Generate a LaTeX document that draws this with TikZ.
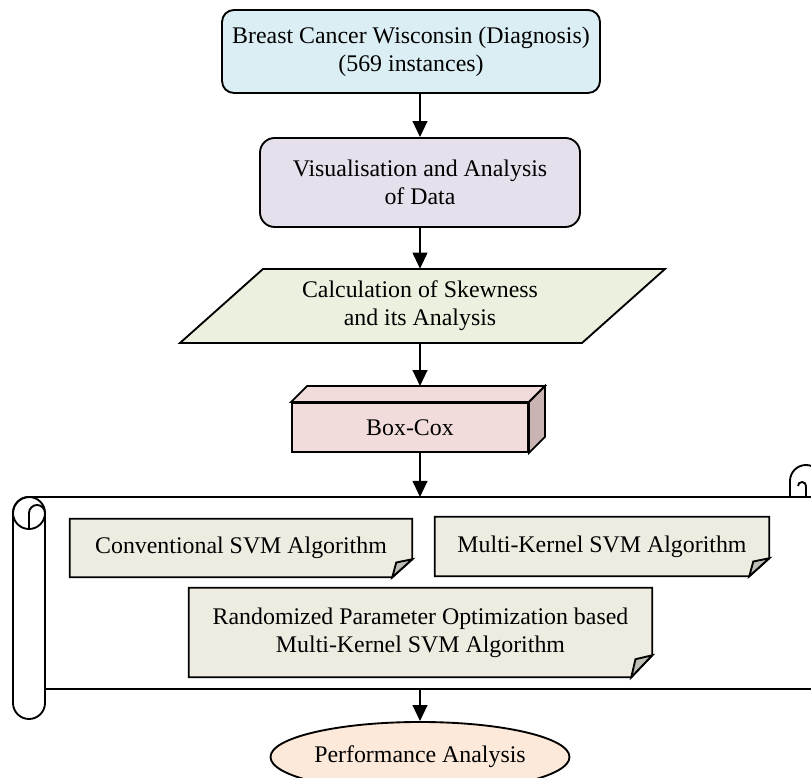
\documentclass[tikz,border=0pt]{standalone}
\usepackage{fontspec}
\setmainfont{Liberation Serif}
\usetikzlibrary{arrows.meta,shapes.geometric,backgrounds}

\definecolor{dataBlue}{HTML}{DAEEF3}
\definecolor{visPurple}{HTML}{E5E0EC}
\definecolor{calcGreen}{HTML}{EBF1DE}
\definecolor{coxRed}{HTML}{F2DCDB}
\definecolor{coxSide}{HTML}{C9B4B3}
\definecolor{noteTan}{HTML}{EEECE1}
\definecolor{foldGrey}{HTML}{BFBEB6}
\definecolor{perfPeach}{HTML}{FDE9D9}

\tikzset{
  outline/.style={draw, line width=1.4pt},
  stepbox/.style={outline, inner sep=0pt, align=center},
  flow/.style={line width=1.5pt, -{Triangle[length=12pt, width=11pt]}},
  notefill/.style={outline, fill=noteTan},
  foldfill/.style={outline, fill=foldGrey},
  notetext/.style={inner sep=0pt, align=center}
}

% folded note behind a text node: node, fold width, fold height
\newcommand{\notebg}[3]{%
  \begin{pgfonlayer}{background}
  \filldraw[notefill] (#1.north west) -- (#1.north east) -- ([yshift=#3]#1.south east)
    -- ([xshift=-#2]#1.south east) -- (#1.south west) -- cycle;
  \filldraw[foldfill] ([xshift=-#2]#1.south east) -- ([yshift=#3]#1.south east)
    -- ([xshift=-0.8*#2, yshift=0.82*#3]#1.south east) -- cycle;
  \end{pgfonlayer}}

\begin{document}
\begin{tikzpicture}[x=0.75pt, y=0.75pt, font=\fontsize{17.9}{21}\selectfont]
\useasboundingbox (0,0) rectangle (811,778);
\clip (0,0) rectangle (811,778);

% data set
\node[stepbox, fill=dataBlue, rounded corners=9pt, minimum width=283.5pt, minimum height=62.25pt]
  (data) at (411,726.5) {Breast Cancer Wisconsin (Diagnosis)\\(569 instances)};

% visualisation
\node[stepbox, fill=visPurple, rounded corners=11pt, minimum width=240pt, minimum height=66.75pt]
  (vis) at (420,595.5) {Visualisation and Analysis\\of Data};

% skewness
\filldraw[outline, fill=calcGreen] (180,435) -- (582,435) -- (665,509) -- (263,509) -- cycle;
\node[notetext, minimum height=55.5pt] (calc) at (420,472) {Calculation of Skewness\\and its Analysis};

% Box-Cox cube
\node[stepbox, fill=coxRed, minimum width=177pt, minimum height=36.75pt] (boxcox) at (410,350.5) {Box-Cox};
\filldraw[outline, fill=coxRed] (boxcox.north west) -- ([shift={(12pt,12pt)}]boxcox.north west)
  -- ([shift={(12pt,12pt)}]boxcox.north east) -- (boxcox.north east) -- cycle;
\filldraw[outline, fill=coxSide] (boxcox.north east) -- ([shift={(12pt,12pt)}]boxcox.north east)
  -- ([shift={(12pt,12pt)}]boxcox.south east) -- (boxcox.south east) -- cycle;
\coordinate (cubetop) at ([shift={(12pt,12pt)}]boxcox.north);

% scroll
\draw[outline] (13,75) -- (13,265) arc (180:90:12pt) -- (830,281);
\draw[outline] (29,265) circle (12pt);
\draw[outline] (29,249) -- (29,265) arc (180:0:6pt) -- (45,75) arc (0:-180:12pt);
\draw[outline] (45,89) -- (830,89);
\draw[outline] (790,281) -- (790,297) arc (180:0:12pt) -- (822,89);
\draw[outline] (806,281) -- (806,292) arc (0:180:3pt);
\coordinate (scrolltop) at (420,281);
\coordinate (scrollbot) at (420,89);

% algorithms
\node[notetext, minimum width=256.5pt, minimum height=43.5pt] (conv) at (241,230) {Conventional SVM Algorithm};
\node[notetext, minimum width=250.5pt, minimum height=44.25pt] (multi) at (602,231.5) {Multi-Kernel SVM Algorithm};
\node[notetext, minimum width=347.25pt, minimum height=66.75pt] (rpo) at (420.5,145.5)
  {Randomized Parameter Optimization based\\Multi-Kernel SVM Algorithm};
\notebg{conv}{15pt}{13.5pt}
\notebg{multi}{15pt}{13.5pt}
\notebg{rpo}{15.75pt}{16.5pt}

% performance
\node[stepbox, ellipse, fill=perfPeach, minimum width=199.5pt, minimum height=52.5pt] (perf) at (420,21) {Performance Analysis};

% arrows
\draw[flow] (vis.north |- data.south) -- (vis.north);
\draw[flow] (vis.south) -- (calc.north);
\draw[flow] (calc.south) -- (calc.south |- cubetop);
\draw[flow] (scrolltop |- boxcox.south) -- (scrolltop);
\draw[flow] (scrollbot) -- (perf.north);

\end{tikzpicture}
\end{document}
